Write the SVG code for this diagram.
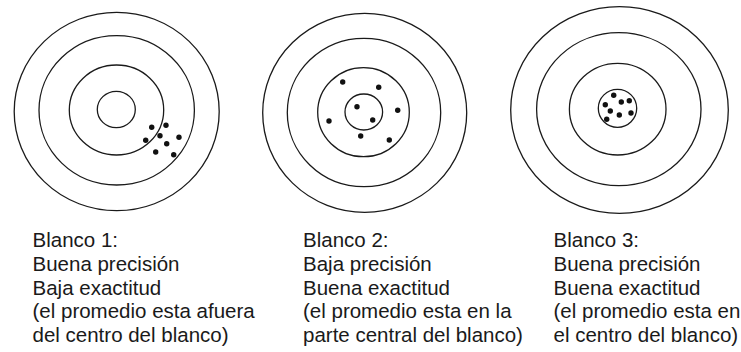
<svg xmlns="http://www.w3.org/2000/svg" width="741" height="352" viewBox="0 0 741 352">
<style>
.ring{fill:none;stroke:#1a1a1a;stroke-width:1.3}
.dot{fill:#111}
.lbl{font-family:"Liberation Sans",Arial,sans-serif;font-size:20.5px;fill:#1a1a1a}
</style>
<rect width="741" height="352" fill="#fff"/>
<g id="blanco1">
<ellipse class="ring" cx="116.7" cy="111.5" rx="102.5" ry="99.2"/>
<ellipse class="ring" cx="116.7" cy="110.3" rx="77.7" ry="74.7"/>
<ellipse class="ring" cx="116.5" cy="110" rx="47.2" ry="45"/>
<ellipse class="ring" cx="116.3" cy="109.5" rx="19" ry="18.2"/>
<g class="dot">
<circle cx="151.7" cy="127.3" r="2.7"/><circle cx="166" cy="125.3" r="2.7"/>
<circle cx="160" cy="135.7" r="2.7"/><circle cx="179" cy="137.3" r="2.7"/>
<circle cx="145.7" cy="140.3" r="2.7"/><circle cx="166.7" cy="143.7" r="2.7"/>
<circle cx="155.7" cy="152" r="2.7"/><circle cx="173.7" cy="154.7" r="2.7"/>
</g>
<text class="lbl" x="32.5" y="247">Blanco 1:</text>
<text class="lbl" x="32.5" y="270.8">Buena precisión</text>
<text class="lbl" x="32.5" y="294.6">Baja exactitud</text>
<text class="lbl" x="32.5" y="318.4">(el promedio esta afuera</text>
<text class="lbl" x="32.5" y="342.2">del centro del blanco)</text>
</g>
<g id="blanco2">
<ellipse class="ring" cx="364.7" cy="112.8" rx="102" ry="99.5"/>
<ellipse class="ring" cx="364" cy="112.5" rx="76.7" ry="74.2"/>
<ellipse class="ring" cx="363.5" cy="112.2" rx="45.8" ry="44.5"/>
<ellipse class="ring" cx="363.8" cy="112" rx="18.8" ry="18"/>
<g class="dot">
<circle cx="342.7" cy="82" r="2.7"/><circle cx="378.7" cy="87.3" r="2.7"/>
<circle cx="357" cy="106.7" r="2.7"/><circle cx="397.7" cy="110.3" r="2.7"/>
<circle cx="329" cy="121" r="2.7"/><circle cx="372.7" cy="120" r="2.7"/>
<circle cx="360.7" cy="136" r="2.7"/><circle cx="389.3" cy="140" r="2.7"/>
</g>
<text class="lbl" x="303" y="247">Blanco 2:</text>
<text class="lbl" x="303" y="270.8">Baja precisión</text>
<text class="lbl" x="303" y="294.6">Buena exactitud</text>
<text class="lbl" x="303" y="318.4">(el promedio esta en la</text>
<text class="lbl" x="303" y="342.2">parte central del blanco)</text>
</g>
<g id="blanco3">
<ellipse class="ring" cx="619.5" cy="110" rx="108.8" ry="103.3"/>
<ellipse class="ring" cx="618.8" cy="109.2" rx="82.2" ry="76.5"/>
<ellipse class="ring" cx="617.7" cy="109.2" rx="48.3" ry="45.8"/>
<ellipse class="ring" cx="617.5" cy="108.3" rx="19.2" ry="19"/>
<g class="dot">
<circle cx="613.7" cy="95.3" r="2.7"/><circle cx="621.3" cy="102" r="2.7"/>
<circle cx="629.3" cy="100.7" r="2.7"/><circle cx="605.3" cy="104.7" r="2.7"/>
<circle cx="610.3" cy="111" r="2.7"/><circle cx="619.3" cy="115" r="2.7"/>
<circle cx="631" cy="113" r="2.7"/><circle cx="606.7" cy="119.3" r="2.7"/>
</g>
<text class="lbl" x="553.5" y="247">Blanco 3:</text>
<text class="lbl" x="553.5" y="270.8">Buena precisión</text>
<text class="lbl" x="553.5" y="294.6">Buena exactitud</text>
<text class="lbl" x="553.5" y="318.4">(el promedio esta en</text>
<text class="lbl" x="553.5" y="342.2">el centro del blanco)</text>
</g>
</svg>
